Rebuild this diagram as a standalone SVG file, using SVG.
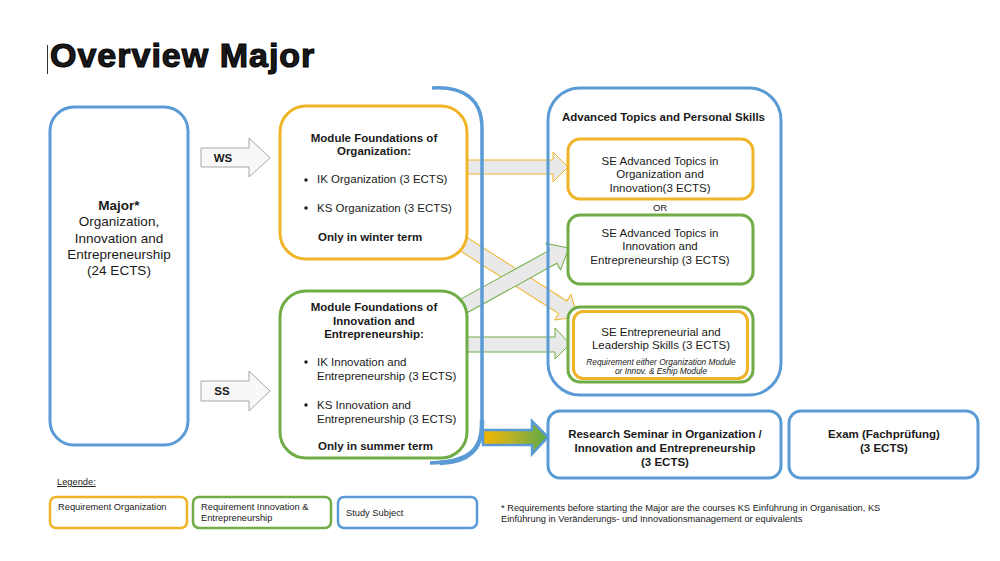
<svg xmlns="http://www.w3.org/2000/svg" width="1000" height="561" viewBox="0 0 1000 561">
<defs>
<linearGradient id="grad" x1="0" y1="0" x2="1" y2="0">
<stop offset="0" stop-color="#f5b400"/>
<stop offset="0.45" stop-color="#b7b22a"/>
<stop offset="1" stop-color="#5aa848"/>
</linearGradient>
<style>
text{font-family:"Liberation Sans",Arial,sans-serif;fill:#1a1a1a}
.b{font-weight:bold}
.c{text-anchor:middle}
.yel{fill:#fff;stroke:#f0b429;stroke-width:3}
.grn{fill:#fff;stroke:#70ad47;stroke-width:3}
.blu{fill:#fff;stroke:#5b9bd5;stroke-width:3}
.ya{fill:#e9e9e9;stroke:#f0b429;stroke-width:1}
.ga{fill:#e9e9e9;stroke:#70ad47;stroke-width:1}
.wa{fill:#f8f8f8;stroke:#a6a6a6;stroke-width:1}
.t115{font-size:11.5px}
.t13{font-size:13.5px}
.leg{font-size:9.3px}
</style>
</defs>
<rect width="1000" height="561" fill="#fff"/>

<line x1="47.5" y1="45" x2="47.5" y2="74" stroke="#333" stroke-width="1"/>
<text x="50" y="67" class="b" style="font-size:34px;letter-spacing:1px;stroke:#000;stroke-width:1.1">Overview Major</text>

<g id="connectors">
<polygon class="ya" points="462,160 553,160 553,152 568,167 553,182 553,174 462,174"/>
<polygon class="ya" transform="translate(578,317) rotate(32.5)" points="0,0 -18,-15 -18,-7.5 -150,-7.5 -150,7.5 -18,7.5 -18,15"/>
<polygon class="ga" transform="translate(569,248) rotate(-28.9)" points="0,0 -18,-15 -18,-7.5 -135,-7.5 -135,7.5 -18,7.5 -18,15"/>
<polygon class="ga" points="462,337 555,337 555,328 570,344 555,359 555,352 462,352"/>
<polygon fill="url(#grad)" stroke="#5b9bd5" stroke-width="2.5" stroke-linejoin="miter" points="483,430 532,430 532,421 548,437 532,454 532,445 483,445"/>
<polygon class="wa" points="201,148 249,148 249,138 270,158 249,177 249,167 201,167"/>
<polygon class="wa" points="201,381 249,381 249,371 270,391 249,411 249,401 201,401"/>
<text x="223" y="162" class="b c t115">WS</text>
<text x="222" y="395" class="b c t115">SS</text>
</g>

<g id="bracket">
<path d="M432,88 C462,86 482,98 482,128 L482,425 C482,450 468,462 430,463" fill="none" stroke="#5b9bd5" stroke-width="3.5"/>
<path d="M482,420 L482,425 C482,450 468,462 440,463" fill="none" stroke="#5b9bd5" stroke-width="4.5"/>
</g>

<g id="major">
<rect x="50" y="107" width="138" height="338" rx="24" class="blu"/>
<text x="119" y="210" class="b c t13">Major*</text>
<text x="119" y="226" class="c t13">Organization,</text>
<text x="119" y="243" class="c t13">Innovation and</text>
<text x="119" y="259" class="c t13">Entrepreneurship</text>
<text x="119" y="275" class="c t13">(24 ECTS)</text>
</g>

<g id="module-org">
<rect x="280" y="106" width="187" height="153" rx="26" class="yel"/>
<text x="374" y="142" class="b c t115">Module Foundations of</text>
<text x="374" y="155" class="b c t115">Organization:</text>
<circle cx="306" cy="180" r="1.7" fill="#1a1a1a"/>
<text x="317" y="183" class="t115">IK Organization (3 ECTS)</text>
<circle cx="306" cy="208" r="1.7" fill="#1a1a1a"/>
<text x="317" y="212" class="t115">KS Organization (3 ECTS)</text>
<text x="318" y="241" class="b t115">Only in winter term</text>
</g>

<g id="module-innov">
<rect x="280" y="291" width="187" height="167" rx="26" class="grn"/>
<text x="374" y="311" class="b c t115">Module Foundations of</text>
<text x="374" y="325" class="b c t115">Innovation and</text>
<text x="374" y="338" class="b c t115">Entrepreneurship:</text>
<circle cx="306" cy="362" r="1.7" fill="#1a1a1a"/>
<text x="317" y="366" class="t115">IK Innovation and</text>
<text x="317" y="380" class="t115">Entrepreneurship (3 ECTS)</text>
<circle cx="306" cy="405" r="1.7" fill="#1a1a1a"/>
<text x="317" y="409" class="t115">KS Innovation and</text>
<text x="317" y="423" class="t115">Entrepreneurship (3 ECTS)</text>
<text x="318" y="450" class="b t115">Only in summer term</text>
</g>

<g id="advanced">
<rect x="548" y="88" width="233" height="307" rx="32" fill="none" stroke="#5b9bd5" stroke-width="3"/>
<text x="562" y="121" class="b t115">Advanced Topics and Personal Skills</text>
</g>

<g id="se-org">
<rect x="568" y="139" width="185" height="60" rx="12" class="yel"/>
<text x="660" y="165" class="c t115">SE Advanced Topics in</text>
<text x="660" y="178" class="c t115">Organization and</text>
<text x="660" y="192" class="c t115">Innovation(3 ECTS)</text>
</g>
<text x="660" y="211" class="c" style="font-size:9.5px">OR</text>

<g id="se-innov">
<rect x="568" y="215" width="185" height="69" rx="12" class="grn"/>
<text x="660" y="237" class="c t115">SE Advanced Topics in</text>
<text x="660" y="250" class="c t115">Innovation and</text>
<text x="660" y="264" class="c t115">Entrepreneurship (3 ECTS)</text>
</g>

<g id="se-leader">
<rect x="568" y="307" width="185" height="75" rx="12" class="grn"/>
<rect x="573.5" y="311.5" width="174" height="67" rx="10" fill="none" stroke="#f0b429" stroke-width="3"/>
<text x="661" y="336" class="c t115">SE Entrepreneurial and</text>
<text x="661" y="349" class="c t115">Leadership Skills (3 ECTS)</text>
<text x="661" y="365" class="c" style="font-size:8.3px;font-style:italic">Requirement either Organization Module</text>
<text x="661" y="374" class="c" style="font-size:8.3px;font-style:italic">or Innov. &amp; Eship Module</text>
</g>

<g id="research">
<rect x="548" y="411" width="233" height="67" rx="12" class="blu"/>
<text x="665" y="438" class="b c t115">Research Seminar in Organization /</text>
<text x="665" y="452" class="b c t115">Innovation and Entrepreneurship</text>
<text x="665" y="466" class="b c t115">(3 ECTS)</text>
</g>

<g id="exam">
<rect x="789" y="411" width="189" height="67" rx="12" class="blu"/>
<text x="884" y="438" class="b c t115">Exam (Fachprüfung)</text>
<text x="884" y="452" class="b c t115">(3 ECTS)</text>
</g>

<g id="legend">
<text x="57" y="485" class="leg" style="text-decoration:underline">Legende:</text>
<rect x="50" y="497" width="137" height="31" rx="6" fill="#fff" stroke="#f0b429" stroke-width="2.5"/>
<text x="58" y="510" class="leg">Requirement Organization</text>
<rect x="193" y="497" width="138" height="31" rx="6" fill="#fff" stroke="#70ad47" stroke-width="2.5"/>
<text x="201" y="510" class="leg">Requirement Innovation &amp;</text>
<text x="201" y="521" class="leg">Entrepreneurship</text>
<rect x="338" y="497" width="139" height="31" rx="6" fill="#fff" stroke="#5b9bd5" stroke-width="2.5"/>
<text x="346" y="516" class="leg">Study Subject</text>
</g>

<g id="footnote">
<text x="501" y="511" class="leg">* Requirements before starting the Major are the courses KS Einführung in Organisation, KS</text>
<text x="501" y="522" class="leg">Einführung in Veränderungs- und Innovationsmanagement or equivalents</text>
</g>
</svg>
